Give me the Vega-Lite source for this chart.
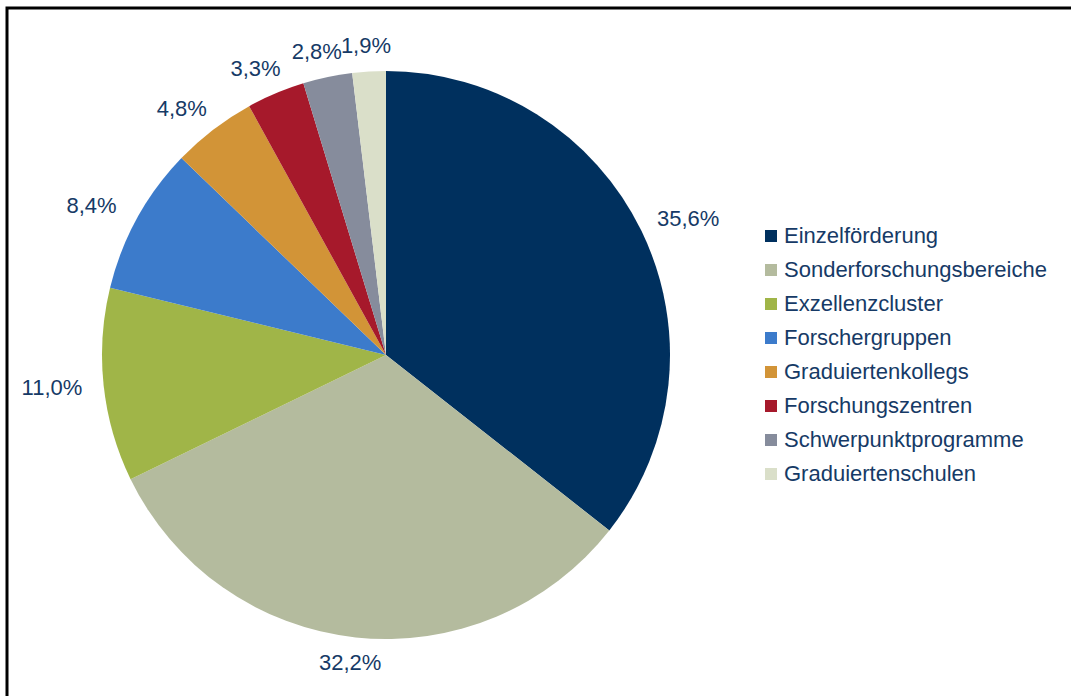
{
  "$schema": "https://vega.github.io/schema/vega-lite/v6.json",
  "autosize": {"type": "none"},
  "width": 1100,
  "height": 720,
  "padding": {"left": 7, "top": 8, "right": 0, "bottom": 0},
  "background": "white",
  "config": {
    "view": {"stroke": "black", "strokeWidth": 3, "fill": "white"},
    "font": "Liberation Sans"
  },
  "data": {
    "values": [
      {"kategorie": "Einzelförderung", "anteil": 35.6, "label": "35,6%", "reihenfolge": 1},
      {"kategorie": "Sonderforschungsbereiche", "anteil": 32.2, "label": "32,2%", "reihenfolge": 2},
      {"kategorie": "Exzellenzcluster", "anteil": 11.0, "label": "11,0%", "reihenfolge": 3},
      {"kategorie": "Forschergruppen", "anteil": 8.4, "label": "8,4%", "reihenfolge": 4},
      {"kategorie": "Graduiertenkollegs", "anteil": 4.8, "label": "4,8%", "reihenfolge": 5},
      {"kategorie": "Forschungszentren", "anteil": 3.3, "label": "3,3%", "reihenfolge": 6},
      {"kategorie": "Schwerpunktprogramme", "anteil": 2.8, "label": "2,8%", "reihenfolge": 7},
      {"kategorie": "Graduiertenschulen", "anteil": 1.9, "label": "1,9%", "reihenfolge": 8}
    ]
  },
  "layer": [
    {
      "mark": {"type": "point", "opacity": 0},
      "encoding": {
        "x": {"datum": 0, "type": "quantitative", "axis": null},
        "y": {"datum": 0, "type": "quantitative", "axis": null}
      }
    },
    {
      "mark": {"type": "arc", "outerRadius": 284, "x": 379, "y": 347},
      "encoding": {
        "theta": {"field": "anteil", "type": "quantitative", "stack": true},
        "order": {"field": "reihenfolge", "type": "quantitative"},
        "color": {
          "field": "kategorie",
          "type": "nominal",
          "sort": ["Einzelförderung", "Sonderforschungsbereiche", "Exzellenzcluster", "Forschergruppen", "Graduiertenkollegs", "Forschungszentren", "Schwerpunktprogramme", "Graduiertenschulen"],
          "scale": {
            "domain": ["Einzelförderung", "Sonderforschungsbereiche", "Exzellenzcluster", "Forschergruppen", "Graduiertenkollegs", "Forschungszentren", "Schwerpunktprogramme", "Graduiertenschulen"],
            "range": ["#00305E", "#B4BB9E", "#A0B548", "#3C7BCB", "#D29437", "#A6192B", "#868C9C", "#DADFC9"]
          },
          "legend": {
            "title": null,
            "orient": "none",
            "legendX": 753,
            "legendY": 217,
            "padding": 0,
            "symbolType": "square",
            "symbolSize": 144,
            "symbolStrokeWidth": 0,
            "symbolOffset": 0,
            "labelOffset": 2,
            "labelFont": "Liberation Sans",
            "labelFontSize": 22,
            "labelColor": "#163A66",
            "labelLimit": 400,
            "rowPadding": 12
          }
        }
      }
    },
    {
      "mark": {
        "type": "text", "radius": 300, "x": 379, "y": 347,
        "dx": {"expr": "36*sin(PI*(datum.anteil_start+datum.anteil_end)/100)"},
        "dy": {"expr": "-10*cos(PI*(datum.anteil_start+datum.anteil_end)/100)"},
        "fontSize": 22, "font": "Liberation Sans", "color": "#163A66", "align": "center", "baseline": "middle"
      },
      "encoding": {
        "theta": {"field": "anteil", "type": "quantitative", "stack": true},
        "order": {"field": "reihenfolge", "type": "quantitative"},
        "text": {"field": "label", "type": "nominal"}
      }
    }
  ]
}
